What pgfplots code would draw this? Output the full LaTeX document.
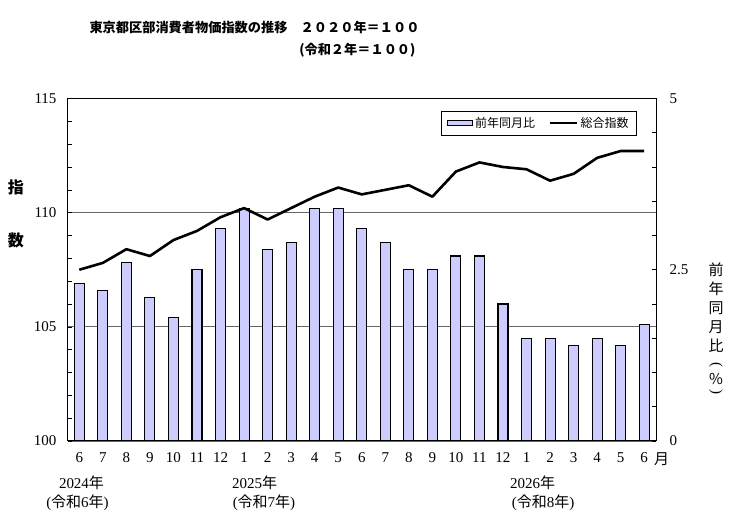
\documentclass[border=0pt]{standalone}
\usepackage{fontspec}
\setmainfont{Liberation Serif}
\newfontfamily\jp{Noto Sans CJK JP}
\usepackage{pgfplots}
\usepackage{pgfplotstable}
\pgfplotsset{compat=1.18}

\definecolor{barfill}{RGB}{204,204,255}

% month index, year-on-year change (%), composite index (2020 = 100)
\pgfplotstableread{
idx yoy cpi
0  2.3 107.5
1  2.2 107.8
2  2.6 108.4
3  2.1 108.1
4  1.8 108.8
5  2.5 109.2
6  3.1 109.8
7  3.4 110.2
8  2.8 109.7
9  2.9 110.2
10 3.4 110.7
11 3.4 111.1
12 3.1 110.8
13 2.9 111.0
14 2.5 111.2
15 2.5 110.7
16 2.7 111.8
17 2.7 112.2
18 2.0 112.0
19 1.5 111.9
20 1.5 111.4
21 1.4 111.7
22 1.5 112.4
23 1.4 112.7
24 1.7 112.7
}\cpidata

\pgfplotsset{
  base/.style={
    scale only axis, width=588pt, height=342.5pt,
    xmin=-0.48, xmax=24.5,
    /pgf/number format/assume math mode=true,
    tick label style={font=\fontsize{15}{18}\selectfont},
    axis line style={line width=1pt},
    tick align=inside,
    major tick length=4.5pt, minor tick length=4.5pt,
    every tick/.style={black, line width=0.6pt},
  },
}

\begin{document}
\begin{tikzpicture}
% left scale: frame, grid, month labels
\begin{axis}[base,
  ymin=100, ymax=115,
  ytick={100,105,110,115},
  minor y tick num=4,
  ytick pos=left,
  ymajorgrids,
  grid style={gray!80!black, line width=0.7pt},
  yticklabel style={xshift=-8pt},
  xtick={0,...,24},
  xticklabels={6,7,8,9,10,11,12,1,2,3,4,5,6,7,8,9,10,11,12,1,2,3,4,5,6},
  xticklabel style={yshift=-8pt},
  x tick style={draw=none},
]
\addplot[draw=none, forget plot] coordinates {(0,100)};
\end{axis}

% right scale: year-on-year bars
\begin{axis}[base,
  ymin=0, ymax=5,
  ytick={0,2.5,5},
  yticklabels={0,2.5,5},
  minor y tick num=4,
  ytick pos=right,
  yticklabel style={xshift=10pt},
  xtick=\empty,
  ybar, bar width=10pt, bar shift=0pt,
]
\addplot[fill=barfill, draw=black, line width=1.1pt] table[x=idx, y=yoy] {\cpidata};
\end{axis}

% left scale: composite index line and legend
\begin{axis}[base,
  ymin=100, ymax=115,
  hide axis,
  legend columns=2,
  legend style={at={(0.9677,0.9635)}, anchor=north east,
    draw=black, line width=0.6pt,
    font=\jp\fontsize{12}{14}\selectfont,
    inner xsep=6pt, inner ysep=4pt,
    /tikz/every even column/.append style={column sep=12pt}},
]
\addlegendimage{legend image code/.code={
  \draw[fill=barfill, draw=black, line width=1pt] (0pt,-2.5pt) rectangle (25pt,2.5pt);}}
\addlegendentry{前年同月比}
\addplot[black, line width=2.6pt, line join=round, mark=none,
  legend image code/.code={\draw[line width=2.6pt] (0pt,0pt) -- (27pt,0pt);}]
  table[x=idx, y=cpi] {\cpidata};
\addlegendentry{総合指数}
\end{axis}

% titles and labels
\node[anchor=west, font=\jp\bfseries\fontsize{13.2}{16}\selectfont]
  at (18pt,413.5pt) {東京都区部消費者物価指数の推移　２０２０年＝１００};
\node[anchor=east, font=\jp\bfseries\fontsize{13.2}{16}\selectfont]
  at (351pt,390.5pt) {(令和２年＝１００)};

\node[font=\jp\bfseries\fontsize{16}{18}\selectfont] at (-52pt,254pt) {指};
\node[font=\jp\bfseries\fontsize{16}{18}\selectfont] at (-52pt,201pt) {数};

\begin{scope}[every node/.style={font=\jp\fontsize{15}{17}\selectfont, inner sep=0pt}]
\node at (648pt,171pt) {前};
\node at (648pt,152pt) {年};
\node at (648pt,133pt) {同};
\node at (648pt,114pt) {月};
\node at (648pt,95pt) {比};
\node[rotate=-90, font=\fontsize{15}{17}\selectfont] at (648pt,76pt) {(};
\node at (648pt,62pt) {\%};
\node[rotate=-90, font=\fontsize{15}{17}\selectfont] at (648pt,49pt) {)};
\end{scope}

\node[font=\jp\fontsize{15}{17}\selectfont] at (593.7pt,-18pt) {月};

\begin{scope}[every node/.style={font=\fontsize{15}{17}\selectfont}]
\node at (13.5pt,-42pt) {2024{\jp 年}};
\node at (9.5pt,-62pt) {({\jp 令和}6{\jp 年})};
\node at (186.5pt,-42pt) {2025{\jp 年}};
\node at (196pt,-62pt) {({\jp 令和}7{\jp 年})};
\node at (464.5pt,-42pt) {2026{\jp 年}};
\node at (475pt,-62pt) {({\jp 令和}8{\jp 年})};
\end{scope}

\pgfresetboundingbox
\useasboundingbox (-68pt,-83pt) rectangle (672pt,441pt);
\end{tikzpicture}
\end{document}
